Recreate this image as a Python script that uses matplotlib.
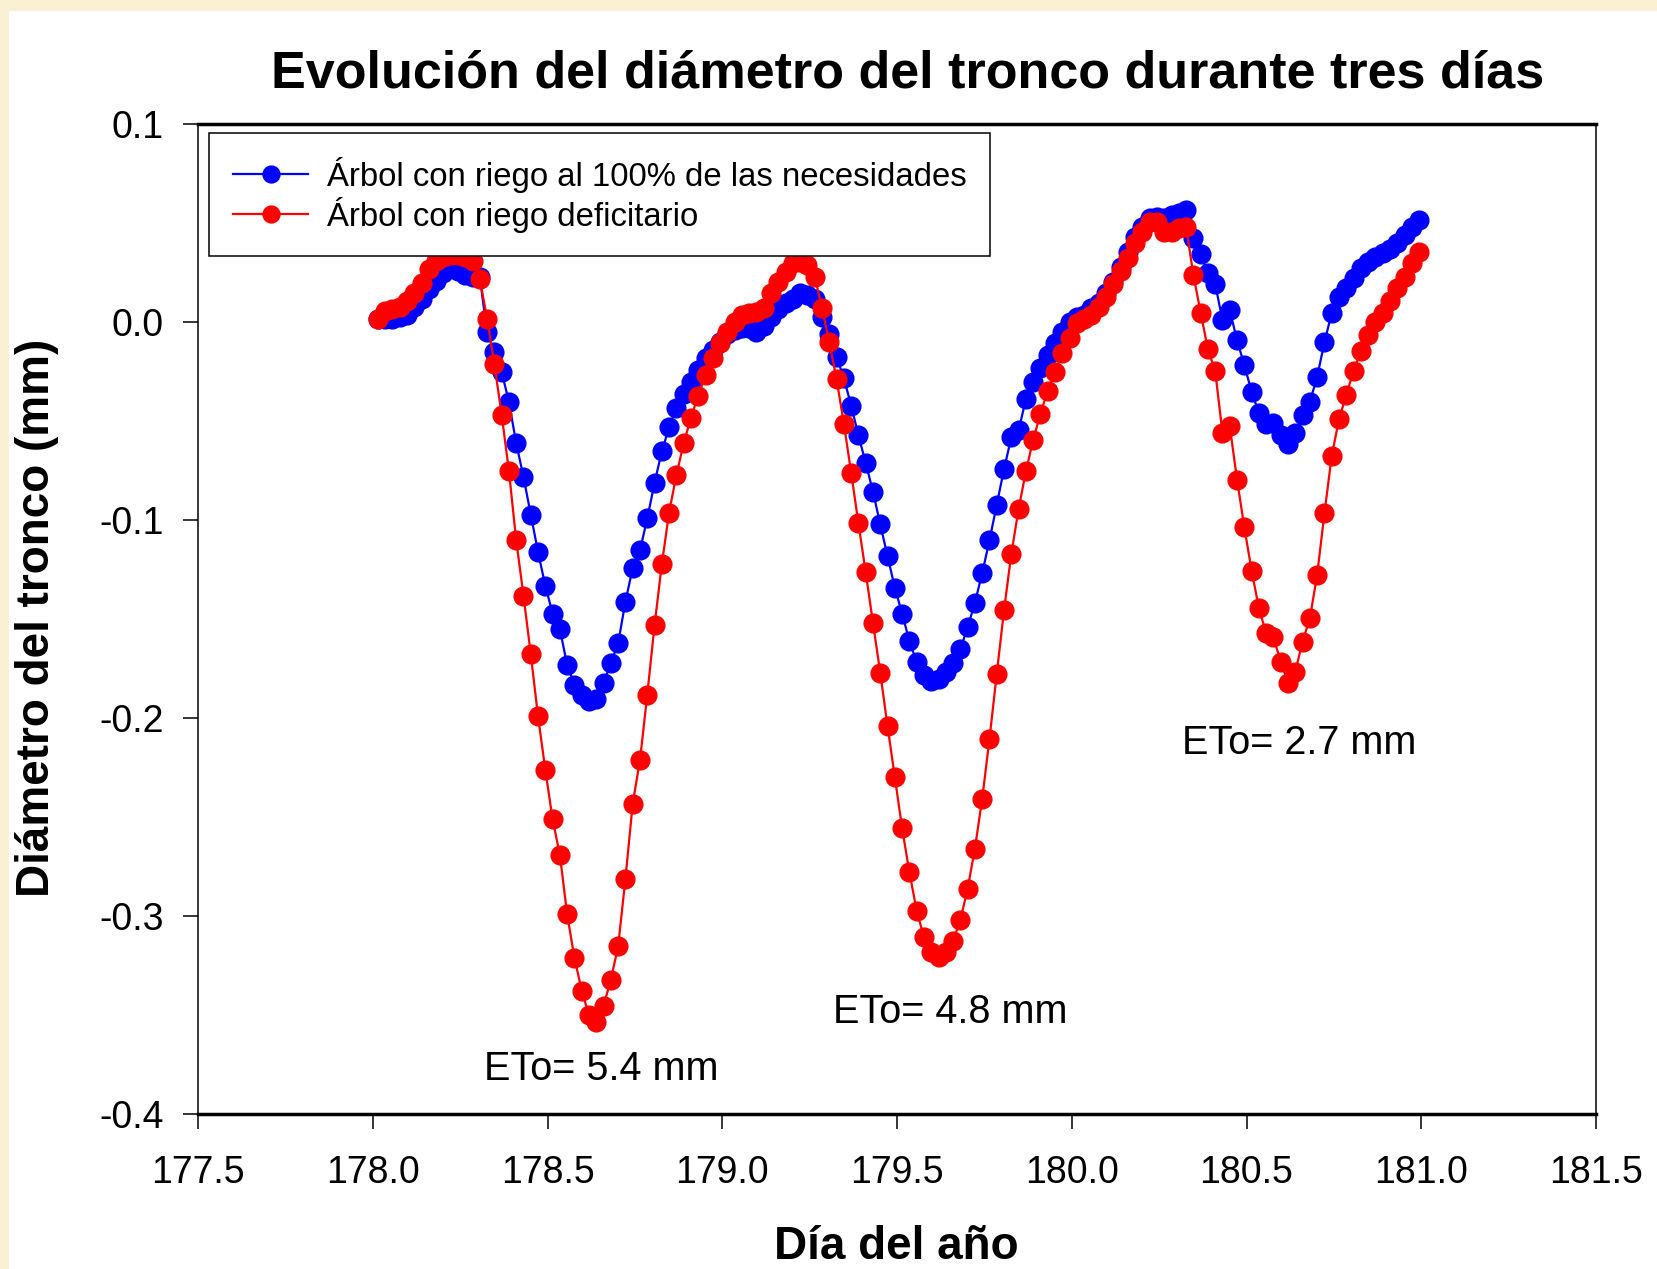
import numpy as np
import matplotlib
matplotlib.use("Agg")
import matplotlib.pyplot as plt
from matplotlib.patches import Rectangle

plt.rcParams['font.family'] = ['Liberation Sans', 'DejaVu Sans']
plt.rcParams['axes.unicode_minus'] = False

# medidas cada 30 min, dias 178-181
dia = 178.0 + (np.arange(144) + 0.7) / 48.0

riego_100 = [
    0.002, 0.002, 0.002, 0.003, 0.004, 0.008, 0.012, 0.017, 0.021, 0.025,
    0.028, 0.026, 0.024, 0.023, 0.023, -0.005, -0.015, -0.025, -0.040, -0.061,
    -0.078, -0.097, -0.116, -0.133, -0.147, -0.155, -0.173, -0.183, -0.188, -0.191,
    -0.190, -0.182, -0.172, -0.162, -0.141, -0.124, -0.115, -0.099, -0.081, -0.065,
    -0.053, -0.043, -0.036, -0.030, -0.024, -0.018, -0.014, -0.010, -0.006, -0.004,
    -0.003, -0.003, -0.005, -0.002, 0.003, 0.007, 0.010, 0.012, 0.015, 0.014,
    0.012, 0.003, -0.006, -0.0175, -0.028, -0.042, -0.057, -0.071, -0.0855, -0.102,
    -0.118, -0.134, -0.147, -0.161, -0.1715, -0.178, -0.181, -0.180, -0.1765, -0.172,
    -0.165, -0.154, -0.1415, -0.1266, -0.110, -0.092, -0.074, -0.058, -0.0545, -0.0387,
    -0.0303, -0.0231, -0.0165, -0.0105, -0.0048, 0.0, 0.003, 0.0038, 0.0072, 0.0097,
    0.0147, 0.0206, 0.0279, 0.0358, 0.0433, 0.0484, 0.0526, 0.0531, 0.0526, 0.0543,
    0.0555, 0.0568, 0.0425, 0.0345, 0.0248, 0.0194, 0.0011, 0.0063, -0.009, -0.0215,
    -0.035, -0.0457, -0.0515, -0.051, -0.057, -0.0615, -0.056, -0.0467, -0.040, -0.0275,
    -0.010, 0.0048, 0.013, 0.0173, 0.0223, 0.0274, 0.0307, 0.0332, 0.035, 0.037,
    0.040, 0.0442, 0.0484, 0.0518,
]

riego_def = [
    0.0016, 0.006, 0.007, 0.008, 0.011, 0.015, 0.020, 0.027, 0.031, 0.033,
    0.034, 0.034, 0.033, 0.031, 0.022, 0.002, -0.021, -0.0465, -0.075, -0.110,
    -0.138, -0.1675, -0.199, -0.226, -0.251, -0.269, -0.299, -0.321, -0.3375, -0.350,
    -0.3535, -0.345, -0.332, -0.315, -0.281, -0.243, -0.221, -0.188, -0.153, -0.122,
    -0.096, -0.077, -0.061, -0.048, -0.037, -0.0265, -0.018, -0.0105, -0.0046, 0.0004,
    0.0038, 0.0046, 0.0055, 0.0072, 0.0147, 0.0206, 0.0257, 0.0299, 0.0307, 0.029,
    0.0231, 0.0074, -0.0101, -0.0287, -0.0511, -0.0758, -0.1014, -0.1262, -0.1518, -0.177,
    -0.2039, -0.2295, -0.2554, -0.2777, -0.297, -0.3106, -0.318, -0.3205, -0.318, -0.3124,
    -0.3018, -0.2859, -0.2657, -0.2405, -0.2103, -0.1774, -0.1452, -0.1168, -0.0942, -0.0752,
    -0.0592, -0.0461, -0.0344, -0.025, -0.0155, -0.0077, -0.0005, 0.0016, 0.0038, 0.008,
    0.013, 0.0194, 0.0262, 0.0324, 0.040, 0.0459, 0.0509, 0.0505, 0.0459, 0.0459,
    0.0475, 0.0484, 0.024, 0.005, -0.0136, -0.0245, -0.056, -0.0523, -0.0795, -0.1035,
    -0.1253, -0.1444, -0.157, -0.159, -0.1713, -0.1819, -0.1763, -0.1612, -0.1494, -0.1275,
    -0.0964, -0.0674, -0.0489, -0.0366, -0.0246, -0.0146, -0.0063, 0.0004, 0.005, 0.0108,
    0.0173, 0.0228, 0.0299, 0.0358,
]

etiquetas = ['Árbol con riego al 100% de las necesidades', 'Árbol con riego deficitario']
x_ticks = [177.5, 178.0, 178.5, 179.0, 179.5, 180.0, 180.5, 181.0, 181.5]
x_labels = ['177.5', '178.0', '178.5', '179.0', '179.5', '180.0', '180.5', '181.0', '181.5']
y_ticks = [-0.4, -0.3, -0.2, -0.1, 0.0, 0.1]
y_labels = ['-0.4', '-0.3', '-0.2', '-0.1', '0.0', '0.1']
eto_textos = ['ETo= 5.4 mm', 'ETo= 4.8 mm', 'ETo= 2.7 mm']
eto_x = [178.318, 179.317, 180.314]
eto_y = [-0.377, -0.3485, -0.2122]

fig = plt.figure(figsize=(16.57, 12.69), dpi=100)
fig.patch.set_facecolor('#FAF0D4')
fig.patches.append(Rectangle((9 / 1657, 0), 1, 1 - 11 / 1269, transform=fig.transFigure,
                             facecolor='white', edgecolor='none', zorder=-5))

ax = fig.add_axes([0.1195, 0.1218, 0.8437, 0.7801])
ax.set_zorder(2)

ax.plot(dia, riego_100, '-o', color='#0000FF', lw=1.6, ms=13.5, label=etiquetas[0])
ax.plot(dia, riego_def, '-o', color='#FF0000', lw=1.6, ms=13.5, label=etiquetas[1])

ax.set_xlim(177.5, 181.5)
ax.set_ylim(-0.4, 0.1)
ax.set_xticks(x_ticks)
ax.set_xticklabels(x_labels)
ax.set_yticks(y_ticks)
ax.set_yticklabels(y_labels)
ax.tick_params(axis='both', direction='out', length=10.5, width=1.1, labelsize=27)
ax.tick_params(axis='x', pad=19)
ax.tick_params(axis='y', pad=14)
ax.tick_params(top=False, right=False)

for s in ['top', 'bottom']:
    ax.spines[s].set_linewidth(2.5)
for s in ['left', 'right']:
    ax.spines[s].set_linewidth(1.1)

for txt, x, y in zip(eto_textos, eto_x, eto_y):
    ax.text(x, y, txt, fontsize=28.5, ha='left', va='center')

leg = ax.legend(loc='upper left', bbox_to_anchor=(0.0079, 0.9914), borderaxespad=0,
                fontsize=23.7, frameon=True, fancybox=False, framealpha=1,
                edgecolor='black', handlelength=2.3, handletextpad=0.55,
                borderpad=0.72, labelspacing=0.12, markerscale=0.9)
leg.get_frame().set_linewidth(1.1)

fig.text(0.548, 0.9417, 'Evolución del diámetro del tronco durante tres días',
         fontsize=37.5, fontweight='bold', ha='center', va='center')
fig.text(0.0225, 0.513, 'Diámetro del tronco (mm)', fontsize=33, fontweight='bold',
         rotation=90, ha='center', va='center')
fig.text(0.541, 0.017, 'Día del año', fontsize=33, fontweight='bold',
         ha='center', va='center')

fig.savefig('out.png', dpi=100, facecolor=fig.get_facecolor())
